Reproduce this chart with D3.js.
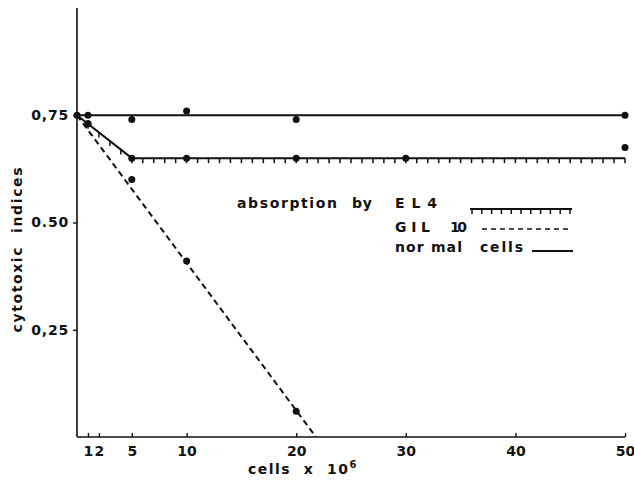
<!DOCTYPE html>
<meta charset="utf-8">
<style>
body { margin: 0; background: #fff; }
svg text { font-family: "DejaVu Sans", sans-serif; font-weight: bold; fill: #111; white-space: pre; }
.tick text { font-size: 14px; }
</style>
<svg width="634" height="481"></svg>
<script src="https://d3js.org/d3.v7.min.js"></script>
<script>
// measured points
const normalX = [0, 1, 5, 10, 20, 50];
const normalY = [0.75, 0.75, 0.74, 0.76, 0.74, 0.75];
const el4X = [1, 5, 10, 20, 30, 50];
const el4Y = [0.73, 0.65, 0.65, 0.65, 0.65, 0.675];
const gilX = [1, 5, 10, 20];
const gilY = [0.73, 0.60, 0.41, 0.06];
// fitted lines
const normalLine = [[0, 0.75], [50, 0.75]];
const el4Line = [[0, 0.75], [5, 0.65], [50, 0.65]];
const gilLine = [[0, 0.75], [21.8, 0]];
const xTicks = [1, 2, 5, 10, 20, 30, 40, 50];
const yTicks = [0.25, 0.5, 0.75];
const yTickLabels = ["0,25", "0.50", "0,75"];

let svg = d3.select("svg");
let x = d3.scaleLinear().domain([0, 50]).range([77, 625]);
let y = d3.scaleLinear().domain([0, 1]).range([437, 8]);
let ink = "#111";

// axes
svg.append("line").attr("x1", x(0)).attr("x2", x(0)).attr("y1", y(1)).attr("y2", y(0))
  .attr("stroke", ink).attr("stroke-width", 1.6);
svg.append("line").attr("x1", x(0)).attr("x2", x(50)).attr("y1", y(0)).attr("y2", y(0))
  .attr("stroke", ink).attr("stroke-width", 1.6);

let xAxis = svg.append("g").attr("transform", "translate(0," + y(0) + ")")
  .call(d3.axisBottom(x).tickValues(xTicks).tickSize(-4).tickPadding(9));
xAxis.select(".domain").remove();
xAxis.selectAll("line").attr("stroke", ink).attr("stroke-width", 1.4);

let yAxis = svg.append("g").attr("transform", "translate(" + x(0) + ",0)")
  .call(d3.axisLeft(y).tickValues(yTicks).tickSize(4).tickPadding(4)
    .tickFormat((d, i) => yTickLabels[i]));
yAxis.select(".domain").remove();
yAxis.selectAll("line").attr("stroke", ink).attr("stroke-width", 1.4);
yAxis.selectAll("text").attr("letter-spacing", 0.8);

let line = d3.line().x(d => x(d[0])).y(d => y(d[1]));

svg.append("path").attr("d", line(normalLine)).attr("fill", "none")
  .attr("stroke", ink).attr("stroke-width", 2);
svg.append("path").attr("d", line(el4Line)).attr("fill", "none")
  .attr("stroke", ink).attr("stroke-width", 2);
svg.append("path").attr("d", line(gilLine)).attr("fill", "none")
  .attr("stroke", ink).attr("stroke-width", 2).attr("stroke-dasharray", "6,4");

// hanging ticks along EL4 line
let el4At = d3.scaleLinear().domain(el4Line.map(d => d[0])).range(el4Line.map(d => d[1]));
svg.append("g").selectAll("line")
  .data(d3.range(1, 51))
  .join("line")
  .attr("x1", d => x(d)).attr("x2", d => x(d))
  .attr("y1", d => y(el4At(d))).attr("y2", d => y(el4At(d)) + 5)
  .attr("stroke", ink).attr("stroke-width", 1.5);

function dots(xs, ys) {
  svg.append("g").selectAll("circle")
    .data(xs.map((d, i) => [d, ys[i]]))
    .join("circle")
    .attr("cx", d => x(d[0])).attr("cy", d => y(d[1])).attr("r", 3.5)
    .attr("fill", ink);
}
dots(normalX, normalY);
dots(el4X, el4Y);
dots(gilX, gilY);

// axis titles
svg.append("text").attr("transform", "translate(22,250) rotate(-90)")
  .attr("text-anchor", "middle").attr("font-size", 14)
  .attr("textLength", 165).attr("lengthAdjust", "spacing")
  .text("cytotoxic  indices");
let xt = svg.append("text").attr("x", 248).attr("y", 474).attr("font-size", 14);
xt.append("tspan").attr("textLength", 100).attr("lengthAdjust", "spacing").text("cells  x  10");
xt.append("tspan").attr("dy", -6).attr("font-size", 10).text("6");

// legend
function word(tx, ty, s, w) {
  svg.append("text").attr("x", tx).attr("y", ty).attr("font-size", 14)
    .attr("textLength", w).attr("lengthAdjust", "spacing").text(s);
}
word(237, 208, "absorption", 100);
word(352, 208, "by", 20);
word(395, 208, "E L 4", 42);
word(395, 232, "G I L", 35);
word(450, 232, "10", 17);
word(395, 252, "nor mal", 67);
word(480, 252, "cells", 43);

let lg = svg.append("g");
lg.append("line").attr("x1", 470).attr("x2", 572).attr("y1", 209).attr("y2", 209)
  .attr("stroke", ink).attr("stroke-width", 1.8);
lg.selectAll(".lt").data(d3.range(0, 11)).join("line").attr("class", "lt")
  .attr("x1", d => 472 + d * 9.8).attr("x2", d => 472 + d * 9.8)
  .attr("y1", 209).attr("y2", 214).attr("stroke", ink).attr("stroke-width", 1.5);
lg.append("line").attr("x1", 482).attr("x2", 570).attr("y1", 229).attr("y2", 229)
  .attr("stroke", ink).attr("stroke-width", 1.6).attr("stroke-dasharray", "5,4");
lg.append("line").attr("x1", 532).attr("x2", 573).attr("y1", 251).attr("y2", 251)
  .attr("stroke", ink).attr("stroke-width", 1.8);
</script>
